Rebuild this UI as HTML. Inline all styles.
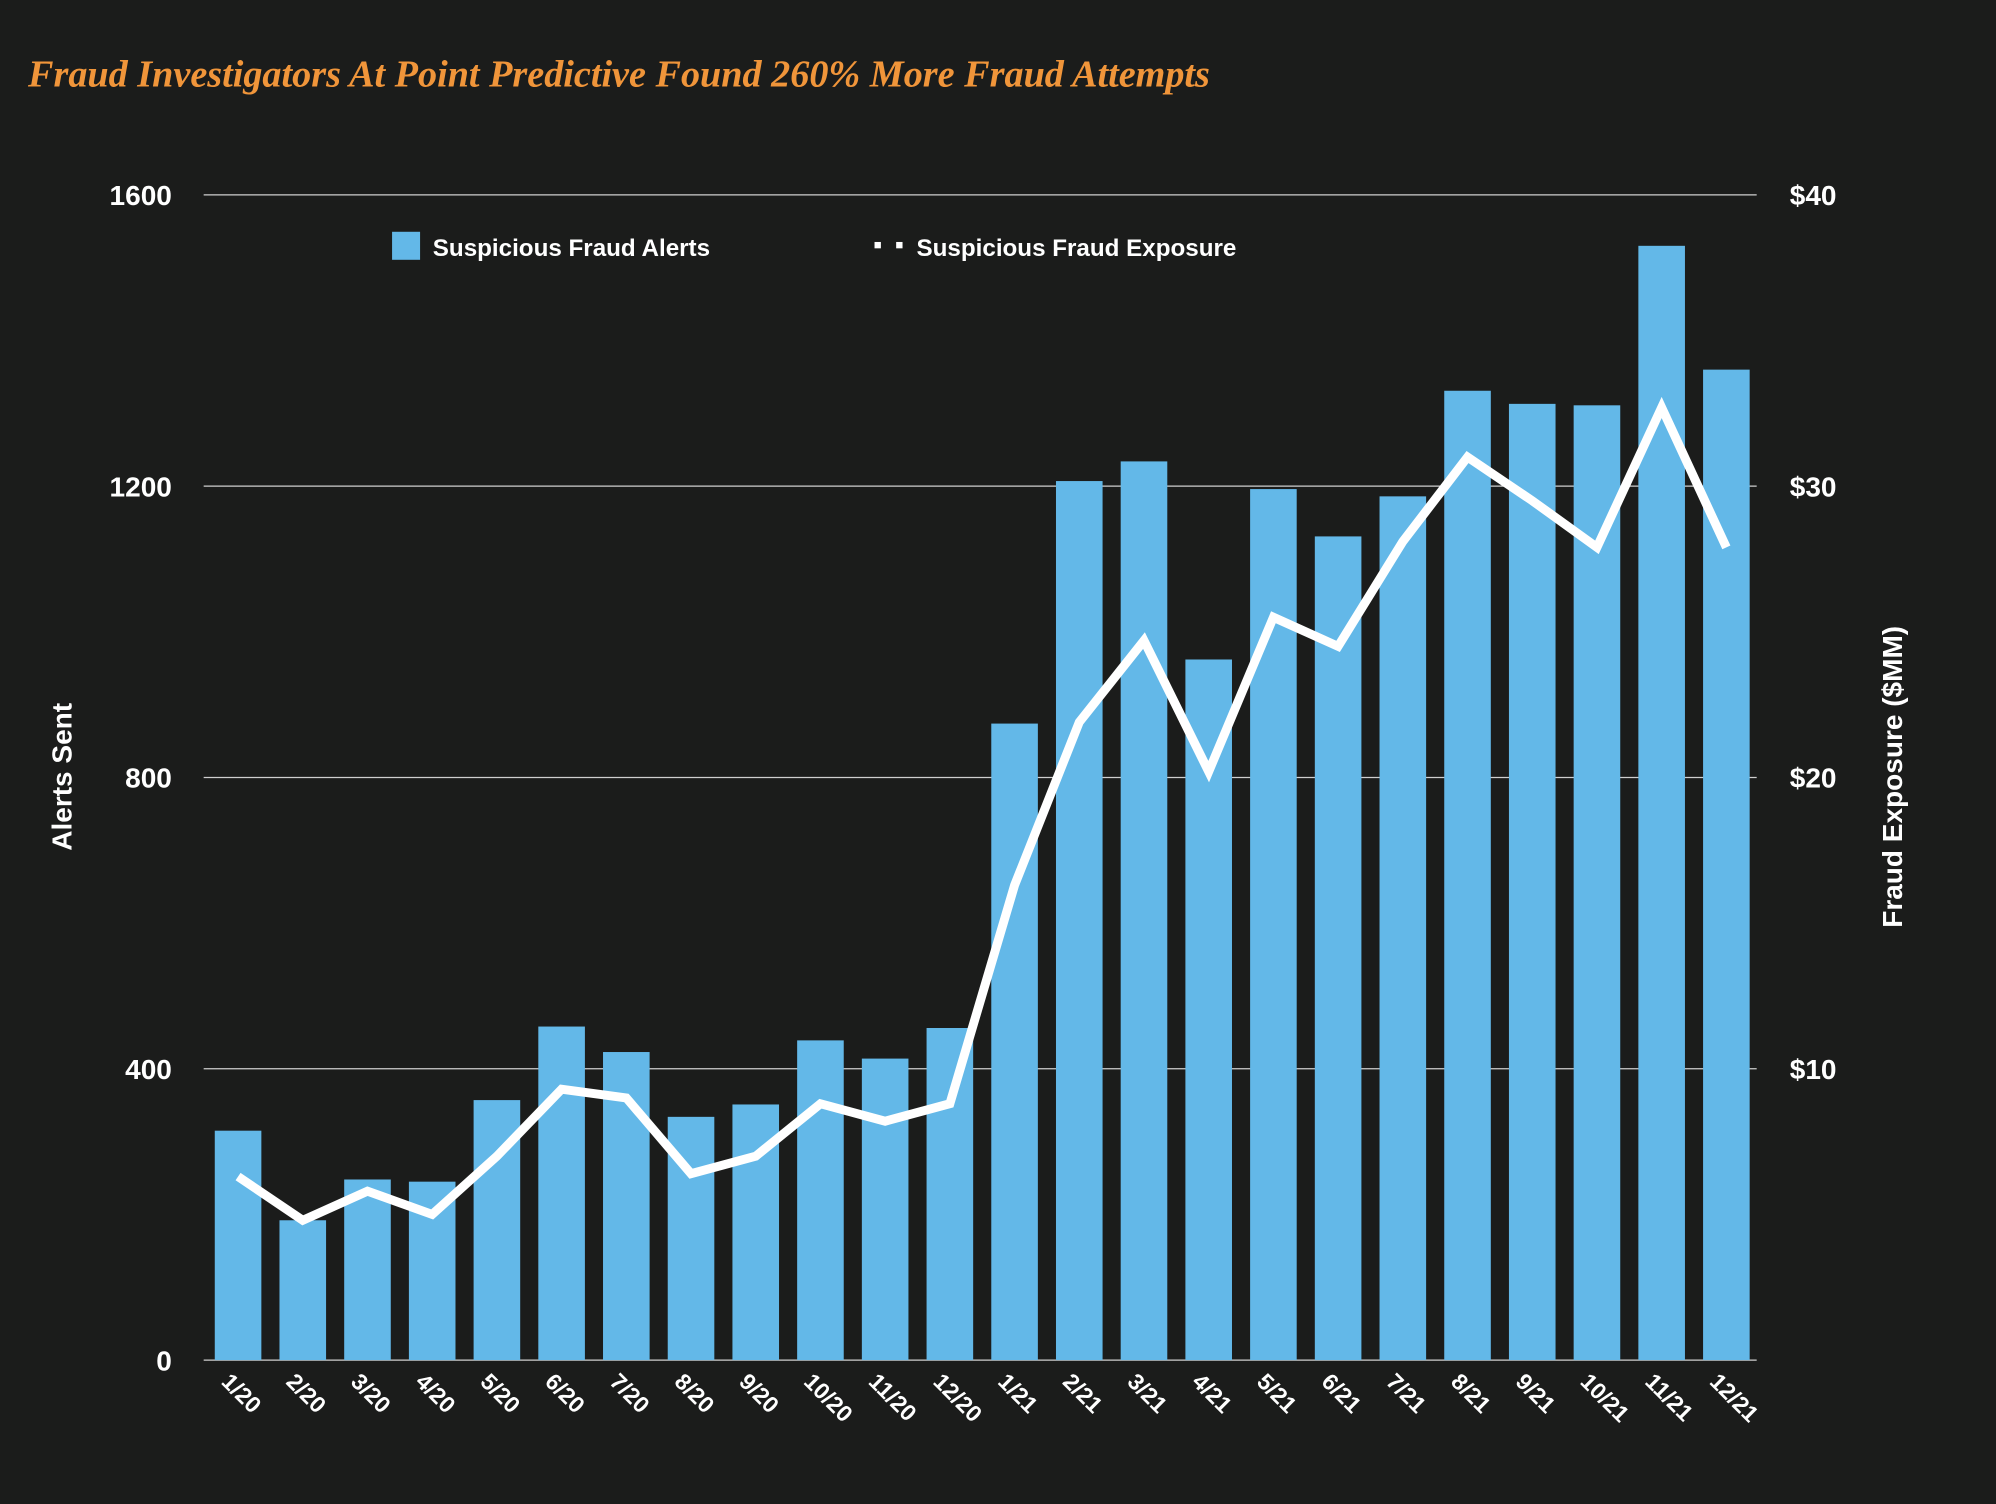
<!DOCTYPE html>
<html><head><meta charset="utf-8"><style>
html,body{margin:0;padding:0;background:#1b1c1b;}
svg{display:block;}
text{font-family:"Liberation Sans Narrow","Liberation Sans",sans-serif;font-weight:bold;fill:#fff;}
</style></head><body>
<svg id="chart" width="1996" height="1504" viewBox="0 0 1568 1181" preserveAspectRatio="none" xmlns="http://www.w3.org/2000/svg">
<rect width="1568" height="1181" fill="#1b1c1b"/>
<text x="22" y="68" style="font-family:'Liberation Serif',serif;font-style:italic;font-size:30px;fill:#f0953a">Fraud Investigators At Point Predictive Found 260% More Fraud Attempts</text>
<g id="grid"></g><g id="bars"></g><g id="line"></g><g id="axes"></g>
<g>
<rect x="308" y="182" width="22" height="22" fill="#63b8e8"/>
<text x="340" y="201" font-size="19">Suspicious Fraud Alerts</text>
<rect x="687" y="190" width="5" height="5" fill="#fff"/>
<rect x="704" y="190" width="5" height="5" fill="#fff"/>
<text x="720" y="201" font-size="19">Suspicious Fraud Exposure</text>
</g>
<text transform="translate(56,610) rotate(-90)" text-anchor="middle" font-size="22">Alerts Sent</text>
<text transform="translate(1494,610) rotate(-90)" text-anchor="middle" font-size="22">Fraud Exposure ($MM)</text>
</svg>
<script>
const categories=["1/20","2/20","3/20","4/20","5/20","6/20","7/20","8/20","9/20","10/20","11/20","12/20","1/21","2/21","3/21","4/21","5/21","6/21","7/21","8/21","9/21","10/21","11/21","12/21"];
const alerts=[315,192,248,245,357,458,423,334,351,439,414,456,874,1207,1234,962,1196,1131,1186,1331,1313,1311,1530,1360];
const exposure=[6.3,4.8,5.8,5.0,7.0,9.3,9.0,6.4,7.0,8.8,8.2,8.8,16.3,21.9,24.7,20.2,25.5,24.5,28.1,31.0,29.5,27.9,32.7,27.9];
const leftTicks=[0,400,800,1200,1600];
const rightTicks=["$10","$20","$30","$40"];
const rightTickVals=[10,20,30,40];
const NS="http://www.w3.org/2000/svg";
const X0=161.6,X1=1381.6,Y0=1068,Y1=153;
const band=(X1-X0)/categories.length;
const xc=i=>X0+band*(i+0.5);
const yL=v=>Y0-(v/1600)*(Y0-Y1);
const yR=v=>Y0-(v/40)*(Y0-Y1);
function mk(tag,attrs,parent){const e=document.createElementNS(NS,tag);for(const k in attrs)e.setAttribute(k,attrs[k]);parent.appendChild(e);return e;}
const grid=document.getElementById('grid'),bars=document.getElementById('bars'),line=document.getElementById('line'),axes=document.getElementById('axes');
leftTicks.forEach(t=>{
  const l=mk('line',{x1:160,x2:1380,y1:yL(t),y2:yL(t),stroke:'#cfcfcf','stroke-width':1},grid);
  
  
  const tx=mk('text',{x:135,y:yL(t)+8,'text-anchor':'end','font-size':22},axes);
  tx.textContent=t;
  
  
});
const z=mk('text',{x:1406,y:yR(0)-1000,'font-size':22},axes);
rightTickVals.forEach((v,i)=>{
  const tx=mk('text',{x:1406,y:yR(v)+8,'font-size':22},axes);
  tx.textContent=rightTicks[i];
  
  
});
z.remove();
const bw=band*0.72;
alerts.forEach((v,i)=>{
  const r=mk('rect',{x:xc(i)-bw/2,y:yL(v),width:bw,height:Y0-yL(v),fill:'#63b8e8'},bars);
  
  
  const tx=mk('text',{transform:`translate(${xc(i)-14},${1086}) rotate(45)`,'font-size':18},axes);
  tx.textContent=categories[i];
  
  
});
const pts=exposure.map((v,i)=>xc(i)+','+yR(v)).join(' ');
const pl=mk('polyline',{points:pts,fill:'none',stroke:'#fff','stroke-width':7,'stroke-linejoin':'miter'},line);


</script>
</body></html>
